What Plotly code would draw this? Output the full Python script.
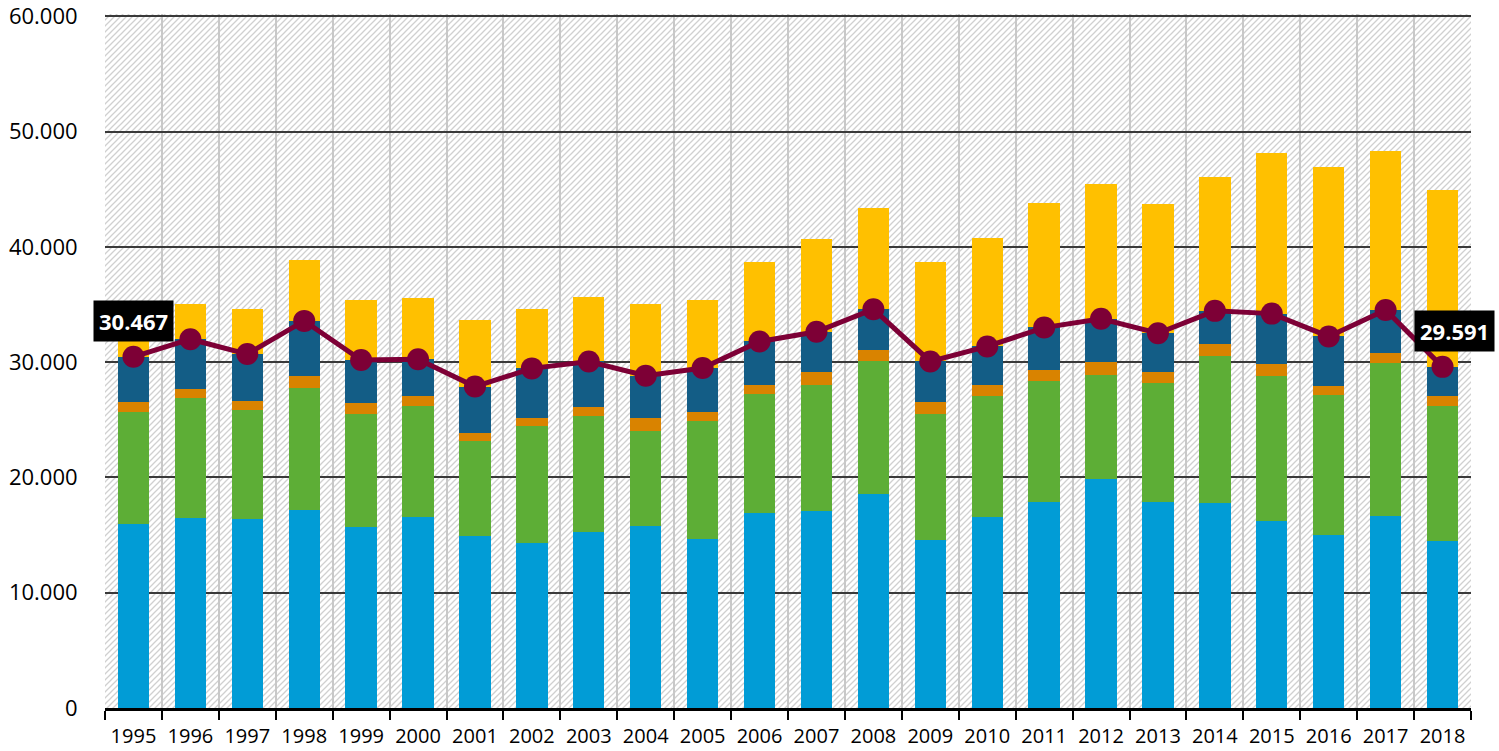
import base64
import plotly.graph_objects as go

years = [str(y) for y in range(1995, 2019)]

# stacked segments
seg_blue = [16000, 16490, 16410, 17210, 15740, 16550, 14880, 14310, 15280, 15830, 14620, 16950,
            17070, 18570, 14530, 16610, 17900, 19840, 17850, 17820, 16260, 15000, 16670, 14480]
seg_green = [9660, 10400, 9450, 10550, 9720, 9650, 8250, 10110, 10050, 8210, 10240, 10290,
             10980, 11500, 10980, 10460, 10460, 9060, 10370, 12710, 12530, 12130, 13250, 11720]
seg_orange = [870, 780, 750, 1010, 980, 870, 740, 720, 750, 1100, 830, 780,
              1090, 950, 1040, 920, 930, 1140, 950, 1070, 1070, 840, 860, 900]
seg_navy = [3937, 4320, 4090, 4820, 3740, 3200, 4010, 4320, 3980, 3690, 3800, 3780,
            3490, 3570, 3520, 3370, 3720, 3720, 3340, 2850, 4350, 4260, 3750, 2491]
seg_yellow = [3530, 3030, 3920, 5270, 5190, 5310, 5760, 5190, 5620, 6250, 5940, 6920,
              8090, 8790, 8640, 9450, 10830, 11720, 11210, 11640, 13920, 14700, 13770, 15310]

# line series (total of the four lower segments)
line_vals = [30467, 31990, 30700, 33580, 30180, 30260, 27880, 29460, 30060, 28830, 29490, 31790,
             32630, 34590, 30060, 31360, 33000, 33760, 32510, 34450, 34210, 32230, 34530, 29591]

y_ticks = [0, 10000, 20000, 30000, 40000, 50000, 60000]
y_labels = ["0", "10.000", "20.000", "30.000", "40.000", "50.000", "60.000"]

colors = ["#019cd6", "#5dae36", "#d98300", "#135d86", "#ffc000"]
segments = [seg_blue, seg_green, seg_orange, seg_navy, seg_yellow]

fig = go.Figure()
for seg, col in zip(segments, colors):
    fig.add_trace(go.Bar(x=years, y=seg, marker=dict(color=col, line=dict(width=0)),
                         hoverinfo="skip", showlegend=False))

fig.add_trace(go.Scatter(x=years, y=line_vals, mode="lines+markers",
                         line=dict(color="#7d0036", width=5),
                         marker=dict(color="#7d0036", size=22),
                         showlegend=False, cliponaxis=False))

# labels for first and last point (category axis -> serial index)
for i, xs in [(0, 0), (len(years) - 1, 12)]:
    txt = f"{line_vals[i]:,}".replace(",", ".")
    fig.add_annotation(xref="x", yref="y", x=i, y=line_vals[i], text="<b>" + txt + "</b>",
                       showarrow=False, yshift=36, xshift=xs, bgcolor="black", borderpad=5,
                       font=dict(color="white", size=22, family="Open Sans"))

# hatched background
W, H = 1366, 694
svg = f'''<svg xmlns="http://www.w3.org/2000/svg" width="{W}" height="{H}" viewBox="0 0 {W} {H}" preserveAspectRatio="none">
<defs><pattern id="h" patternUnits="userSpaceOnUse" width="6" height="6">
<rect width="6" height="6" fill="#ffffff"/>
<path d="M-1,1 l2,-2 M0,6 l6,-6 M5,7 l2,-2" stroke="#d0d0d0" stroke-width="1.3"/>
</pattern></defs>
<rect width="{W}" height="{H}" fill="url(#h)"/></svg>'''
uri = "data:image/svg+xml;base64," + base64.b64encode(svg.encode()).decode()
fig.add_layout_image(dict(source=uri, xref="paper", yref="paper", x=0, y=1, sizex=1, sizey=1,
                          xanchor="left", yanchor="top", sizing="stretch", layer="below"))

fig.update_layout(
    width=1499, height=751,
    barmode="stack", bargap=0.45,
    margin=dict(l=105, r=28, t=14, b=43),
    paper_bgcolor="white", plot_bgcolor="rgba(0,0,0,0)",
    font=dict(family="Open Sans", color="black"),
)
fig.update_xaxes(type="category", tickson="boundaries", showgrid=True, gridcolor="#c8c8c8",
                 gridwidth=1.5, ticks="outside", ticklen=9, tickwidth=2, tickcolor="black",
                 showline=True, linecolor="black", linewidth=2.5, ticklabelstandoff=8,
                 tickfont=dict(size=20), range=[-0.5, 23.5], automargin=False)
fig.update_yaxes(range=[0, 60200], tickvals=y_ticks, ticktext=y_labels, showgrid=True,
                 gridcolor="#3a3a3a", gridwidth=1.5, zeroline=False, showline=False,
                 ticks="outside", ticklen=22, tickcolor="rgba(0,0,0,0)", automargin=False,
                 ticklabeloverflow="allow", tickfont=dict(size=22))

fig.write_html("out.html", config={"displayModeBar": False})

with open("out.html", encoding="utf-8") as f:
    html = f.read()
html = html.replace("<head>", "<head><style>html,body{margin:0;padding:0;overflow:hidden}</style>", 1)
with open("out.html", "w", encoding="utf-8") as f:
    f.write(html)
